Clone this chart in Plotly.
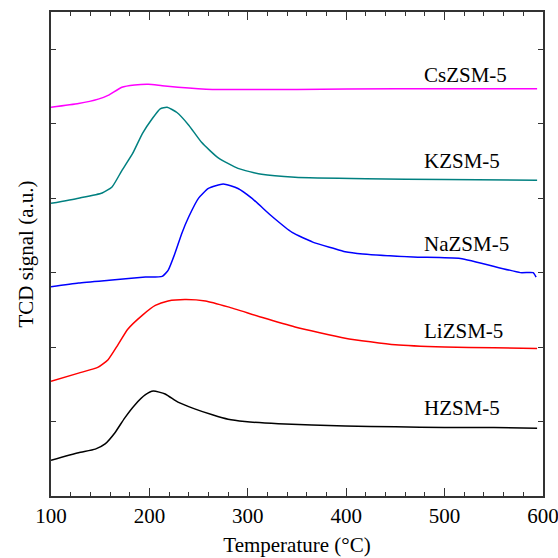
import plotly.graph_objects as go

# TPD profiles (temperature in °C, TCD signal in arbitrary offset units)
h_temp = [100, 128, 145, 155, 165, 175, 185, 196, 204, 216, 229, 246, 264, 280, 297, 331, 399, 450, 500, 550, 594]
h_sig = [0.48, 0.58, 0.63, 0.70, 0.85, 1.05, 1.22, 1.36, 1.41, 1.37, 1.26, 1.17, 1.09, 1.03, 1.00, 0.97, 0.94, 0.93, 0.92, 0.92, 0.91]

li_temp = [100, 128, 148, 158, 168, 178, 193, 206, 219, 236, 257, 280, 314, 348, 399, 450, 500, 550, 594]
li_sig = [1.54, 1.65, 1.73, 1.83, 2.03, 2.24, 2.43, 2.56, 2.62, 2.64, 2.62, 2.54, 2.40, 2.27, 2.12, 2.03, 2.00, 1.99, 1.98]

na_temp = [100, 128, 162, 196, 213, 219, 226, 233, 240, 250, 260, 275, 290, 304, 325, 345, 366, 386, 399, 417, 468, 516, 577, 590, 593]
na_sig = [2.81, 2.86, 2.90, 2.94, 2.95, 3.03, 3.26, 3.53, 3.75, 4.00, 4.13, 4.19, 4.13, 4.00, 3.75, 3.54, 3.41, 3.33, 3.28, 3.25, 3.21, 3.19, 3.00, 3.00, 2.94]

k_temp = [100, 128, 152, 162, 172, 183, 193, 203, 211, 218, 228, 240, 253, 270, 290, 314, 348, 420, 500, 594]
k_sig = [3.93, 4.00, 4.07, 4.15, 4.37, 4.60, 4.87, 5.07, 5.20, 5.22, 5.15, 4.98, 4.75, 4.54, 4.40, 4.32, 4.28, 4.26, 4.25, 4.24]

cs_temp = [100, 128, 148, 158, 172, 185, 199, 213, 229, 264, 350, 450, 594]
cs_sig = [5.22, 5.27, 5.33, 5.38, 5.49, 5.52, 5.53, 5.51, 5.49, 5.46, 5.46, 5.47, 5.47]

names = ["HZSM-5", "LiZSM-5", "NaZSM-5", "KZSM-5", "CsZSM-5"]
colors = ["#000000", "#FF0000", "#0000FF", "#008080", "#FF00FF"]
label_y = [1.18, 2.21, 3.38, 4.50, 5.66]
label_x = 477

series = [(h_temp, h_sig), (li_temp, li_sig), (na_temp, na_sig), (k_temp, k_sig), (cs_temp, cs_sig)]

serif = "Liberation Serif, Times New Roman, serif"

fig = go.Figure()
for (t, s), name, col in zip(series, names, colors):
    fig.add_trace(go.Scatter(x=t, y=s, mode="lines", name=name,
                             line=dict(color=col, width=1.5, shape="spline", smoothing=0.5)))

for name, ly in zip(names, label_y):
    fig.add_annotation(x=label_x, y=ly, text=name, showarrow=False,
                       xanchor="left", yanchor="middle",
                       font=dict(family=serif, size=21, color="#000000"))

axis_common = dict(showline=True, linecolor="#333333", linewidth=1.5, mirror="ticks",
                   ticks="inside", tickcolor="#333333", showgrid=False, zeroline=False,
                   automargin=False)

fig.update_xaxes(range=[100, 600], dtick=100, tick0=100, ticklen=8, tickwidth=1.2,
                 ticklabeloverflow="allow",
                 minor=dict(dtick=20, tick0=100, ticks="inside", ticklen=4, tickcolor="#333333", tickwidth=1),
                 tickfont=dict(family=serif, size=21, color="#000000"),
                 title=dict(text="Temperature (°C)", font=dict(family=serif, size=21, color="#000000"), standoff=10),
                 **axis_common)
fig.update_yaxes(range=[0, 6.5], dtick=1, tick0=0, ticklen=5, tickwidth=1.2, showticklabels=False,
                 title=dict(text="TCD signal (a.u.)", font=dict(family=serif, size=21, color="#000000"), standoff=10),
                 **axis_common)

fig.update_layout(width=558, height=558, margin=dict(l=51, r=15, t=12, b=62),
                  paper_bgcolor="white", plot_bgcolor="white", showlegend=False)

fig.write_html("out.html")
